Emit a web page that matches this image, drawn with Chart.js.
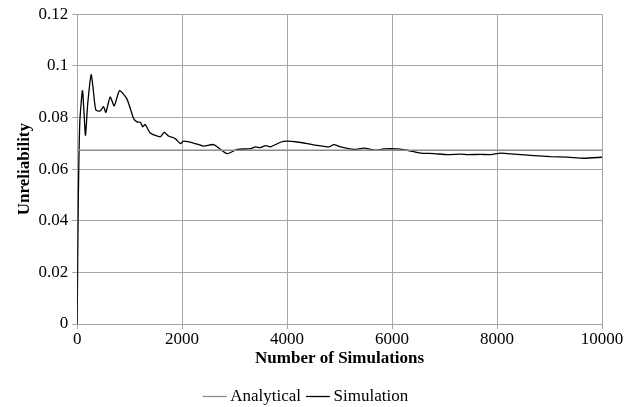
<!DOCTYPE html>
<html>
<head>
<meta charset="utf-8">
<script src="https://cdn.jsdelivr.net/npm/chart.js@4"></script>
<style>
  html, body { margin: 0; padding: 0; background: #fff; }
  #wrap { width: 638px; height: 407px; }
</style>
</head>
<body>
<div id="wrap"><canvas id="c" width="638" height="407"></canvas></div>
<script>
// Datos
const simN = [0, 20, 50, 101, 130, 159, 200, 267, 300, 356, 439, 503, 547, 630, 706, 808, 948, 1075, 1139, 1202, 1253, 1297,
  1393, 1584, 1660, 1742, 1870, 1965, 2029, 2219, 2410, 2601, 2856, 3047, 3301, 3396, 3492, 3587, 3682, 3873,
  4001, 4192, 4383, 4573, 4796, 4891, 5018, 5272, 5463, 5686, 5845, 6100, 6291, 6545, 6799, 7054, 7308, 7435,
  7689, 7880, 8071, 8325, 8706, 9024, 9343, 9660, 10000];
const simVal = [0, 0.045, 0.078, 0.0904, 0.082, 0.0731, 0.085, 0.0966, 0.092, 0.0829, 0.0825, 0.0842, 0.0820, 0.0879, 0.0845, 0.0904, 0.0872,
  0.0796, 0.0783, 0.0781, 0.0764, 0.0773, 0.0740, 0.0725, 0.0742, 0.0728, 0.0718, 0.0699, 0.0708, 0.0701,
  0.0689, 0.0695, 0.0660, 0.0676, 0.0679, 0.0686, 0.0683, 0.0691, 0.0686, 0.0704, 0.0708, 0.0705, 0.0699,
  0.0692, 0.0686, 0.0695, 0.0686, 0.0676, 0.0681, 0.0673, 0.0678, 0.0678, 0.0673, 0.0662, 0.0660, 0.0656,
  0.0658, 0.0656, 0.0657, 0.0656, 0.0662, 0.0658, 0.0652, 0.0648, 0.0646, 0.0642, 0.0646];
const anaN = [0, 10000];
const anaVal = [0.0673, 0.0673];

const font = "'Liberation Serif', 'Times New Roman', serif";

new Chart(document.getElementById("c"), {
  type: "line",
  data: {
    datasets: [
      {
        label: "Analytical",
        data: anaN.map((x, i) => ({ x, y: anaVal[i] })),
        borderColor: "#8c8c8c",
        backgroundColor: "#8c8c8c",
        borderWidth: 1.3,
        pointRadius: 0,
        fill: false
      },
      {
        label: "Simulation",
        data: simN.map((x, i) => ({ x, y: simVal[i] })),
        borderColor: "#000",
        backgroundColor: "#000",
        borderWidth: 1.3,
        pointRadius: 0,
        tension: 0.2,
        fill: false
      }
    ]
  },
  options: {
    responsive: false,
    animation: false,
    layout: { padding: { top: 7, right: 36, left: 14, bottom: -8 } },
    plugins: {
      legend: {
        position: "bottom",
        labels: {
          usePointStyle: true,
          pointStyle: "line",
          boxWidth: 14,
          color: "#000",
          padding: 10,
          font: { family: font, size: 17 }
        }
      },
      tooltip: { enabled: false }
    },
    scales: {
      x: {
        type: "linear",
        min: 0, max: 10000,
        ticks: { stepSize: 2000, color: "#000", font: { family: font, size: 17, lineHeight: 1 }, maxRotation: 0, padding: 2,
          callback: v => String(v) },
        grid: { color: "#a6a6a6", lineWidth: 1, tickLength: 5 },
        border: { color: "#a6a6a6" },
        title: { display: true, text: "Number of Simulations", color: "#000", font: { family: font, size: 17, weight: "bold", lineHeight: 1 }, padding: { top: 0, bottom: 11 } }
      },
      y: {
        min: 0, max: 0.12,
        ticks: { stepSize: 0.02, color: "#000", font: { family: font, size: 17 }, padding: 4,
          callback: v => +v.toFixed(2) },
        grid: { color: "#a6a6a6", lineWidth: 1, tickLength: 5 },
        border: { color: "#a6a6a6" },
        title: { display: true, text: "Unreliability", color: "#000", font: { family: font, size: 17, weight: "bold" }, padding: 0 }
      }
    }
  }
});
</script>
</body>
</html>
